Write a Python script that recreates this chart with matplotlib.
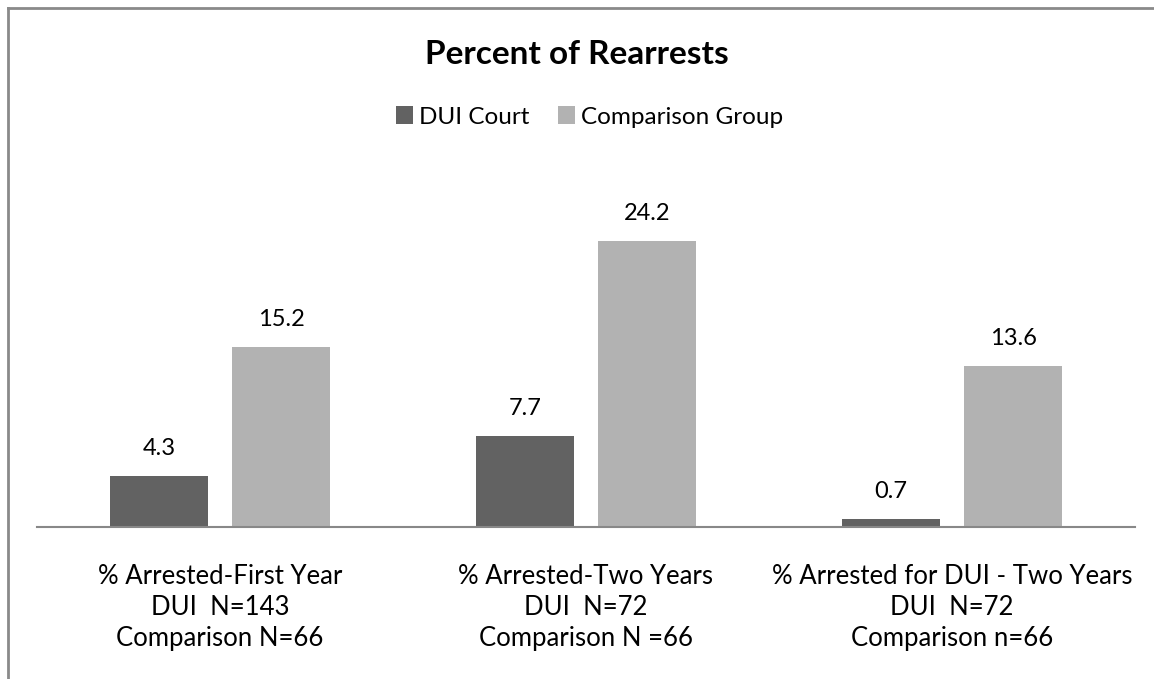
import numpy as np
import matplotlib
matplotlib.use('Agg')
from matplotlib import pyplot as plt
from matplotlib.lines import Line2D

categories = ['% Arrested-First Year\nDUI  N=143\nComparison N=66',
              '% Arrested-Two Years\nDUI  N=72\nComparison N =66',
              '% Arrested for DUI - Two Years\nDUI  N=72\nComparison n=66']
dui_court = [4.3, 7.7, 0.7]
comparison = [15.2, 24.2, 13.6]
series_names = ['DUI Court', 'Comparison Group']

plt.rcParams['font.family'] = ['Lato', 'DejaVu Sans']

W, H = 1154, 679
fig = plt.figure(figsize=(W / 100, H / 100), dpi=100)

# axes placed in pixel terms: baseline at y=527, x from 37 to 1135
ax = fig.add_axes([37 / W, (H - 527) / H, 1098 / W, 355 / H])
x = np.arange(len(categories))
bw = 0.267
off = 0.167
b1 = ax.bar(x - off, dui_court, bw, color='#626262')
b2 = ax.bar(x + off, comparison, bw, color='#b2b2b2')
for bars in (b1, b2):
    for r in bars:
        ax.annotate('%.1f' % r.get_height(), (r.get_x() + r.get_width() / 2, r.get_height()),
                    xytext=(0, 12), textcoords='offset points', ha='center', va='bottom',
                    fontsize=17, color='black')

ax.set_xlim(-0.5, 2.5)
ax.set_ylim(0, 30)
ax.set_xticks(x)
ax.set_xticklabels(categories, fontsize=18.5, linespacing=1.29)
ax.tick_params(axis='x', length=0, pad=27)
ax.set_yticks([])
for s in ['top', 'right', 'left']:
    ax.spines[s].set_visible(False)
ax.spines['bottom'].set_color('#888888')
ax.spines['bottom'].set_linewidth(1.5)

fig.text(0.5, (H - 54) / H, 'Percent of Rearrests', ha='center', va='center',
         fontsize=24, fontweight='bold')
fig.legend([b1, b2], series_names, loc='center', bbox_to_anchor=(0.511, (H - 117) / H),
           ncol=2, frameon=False, fontsize=17.5, handlelength=0.7, handleheight=0.7,
           handletextpad=0.25, columnspacing=1.2)

# chart border (only top and left visible in crop)
fig.add_artist(Line2D([8 / W, 1.0], [(H - 8) / H, (H - 8) / H], color='#8a8a8a', lw=2,
                      transform=fig.transFigure))
fig.add_artist(Line2D([8 / W, 8 / W], [0, (H - 8) / H], color='#8a8a8a', lw=2,
                      transform=fig.transFigure))

plt.savefig('out.png', dpi=100)
plt.close('all')
